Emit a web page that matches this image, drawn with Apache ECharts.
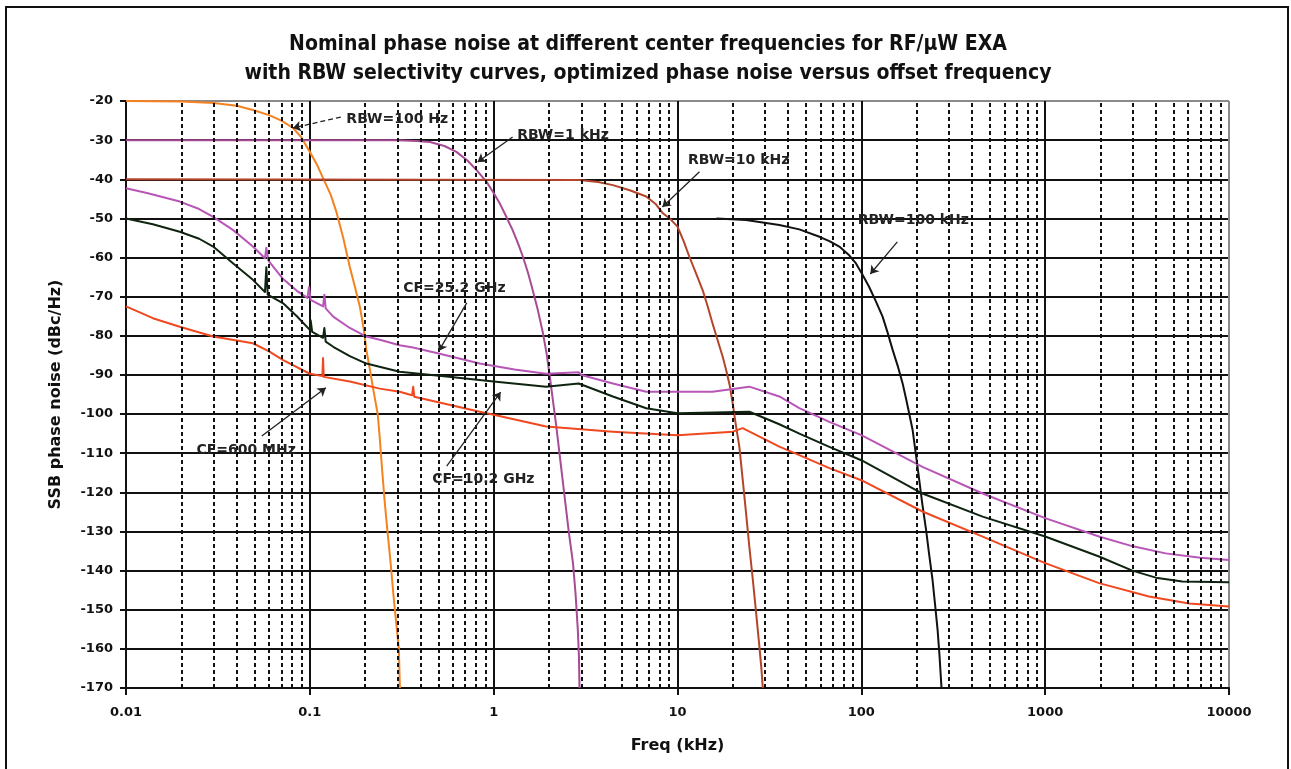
<!DOCTYPE html>
<html><head><meta charset="utf-8">
<script src="https://cdn.jsdelivr.net/npm/echarts@6/dist/echarts.min.js"></script>
<style>html,body{margin:0;padding:0;background:#fff}#c{width:1291px;height:769px}</style>
</head><body><div id="c"></div>
<script>
// ---------- text ----------
const titleLines = [
  'Nominal phase noise at different center frequencies for RF/\u00b5W EXA',
  'with RBW selectivity curves, optimized phase noise versus offset frequency'
];
const xAxisName = 'Freq (kHz)';
const yAxisName = 'SSB phase noise (dBc/Hz)';
const xTickLabels = ['0.01', '0.1', '1', '10', '100', '1000', '10000'];
const yTickValues = [-170, -160, -150, -140, -130, -120, -110, -100, -90, -80, -70, -60, -50, -40, -30, -20];
const minorFreqs = [
  0.02,0.03,0.04,0.05,0.06,0.07,0.08,0.09,
  0.2,0.3,0.4,0.5,0.6,0.7,0.8,0.9,
  2,3,4,5,6,7,8,9,
  20,30,40,50,60,70,80,90,
  200,300,400,500,600,700,800,900,
  2000,3000,4000,5000,6000,7000,8000,9000
];

// ---------- data: [freq kHz, dBc/Hz] ----------
const rbw100Hz = [[0.01,-20],[0.02,-20.1],[0.03,-20.5],[0.04,-21.2],[0.049,-22.3],[0.06,-23.6],[0.07,-25],[0.081,-26.9],[0.09,-29.3],[0.1,-33],[0.11,-36.5],[0.118,-39.7],[0.13,-44],[0.14,-48.6],[0.152,-55],[0.165,-62.4],[0.176,-67.5],[0.187,-72.5],[0.196,-78],[0.203,-83.6],[0.212,-88.5],[0.22,-93],[0.234,-100],[0.24,-106],[0.248,-115],[0.255,-122],[0.262,-128],[0.275,-138],[0.286,-147],[0.296,-154],[0.305,-160],[0.309,-170]];
const rbw1kHz = [[0.01,-30],[0.3,-30],[0.38,-30.2],[0.45,-30.5],[0.54,-31.5],[0.627,-33],[0.72,-35.2],[0.805,-37.6],[0.913,-40.6],[1.0,-43.5],[1.078,-46.1],[1.17,-49.5],[1.268,-53],[1.36,-56.5],[1.443,-59.8],[1.54,-64],[1.63,-68.3],[1.74,-73.5],[1.854,-79.3],[1.94,-84.5],[2.015,-90],[2.1,-96.5],[2.19,-103],[2.3,-111.5],[2.43,-121],[2.56,-130],[2.7,-138],[2.79,-146],[2.87,-155.2],[2.91,-162],[2.93,-170]];
const rbw10kHz = [[0.01,-40],[2.93,-40.2],[3.7,-40.7],[4.45,-41.5],[5.5,-42.8],[6.76,-44.4],[7.6,-46.3],[8.33,-48.7],[9.2,-50.3],[10,-52.1],[10.8,-55.8],[11.6,-59.8],[12.6,-64],[13.7,-68.3],[14.6,-72.5],[15.5,-76.8],[16.5,-81],[17.6,-85.3],[18.4,-88.8],[19.2,-92.5],[20,-97.5],[20.8,-103],[21.7,-108.3],[22.6,-116.5],[23.6,-125.3],[24.6,-134],[25.7,-142.4],[26.8,-151],[27.9,-159.5],[28.6,-165],[29.1,-170]];
const rbw100kHz = [[16.3,-50],[23.6,-50.4],[35.8,-51.7],[46,-52.8],[59.2,-54.7],[67,-55.8],[75.9,-57.2],[85,-59.2],[93.5,-61.5],[101,-64.2],[110,-67.4],[120,-71.2],[130.5,-75.1],[139,-79.2],[148,-83.6],[158,-87.8],[167.6,-92.1],[175,-96],[182,-99.8],[190,-104],[198,-110.3],[206.6,-116.9],[215,-123.2],[225,-129.6],[234,-136],[244,-142.4],[252,-148.8],[260,-155.2],[266,-161.5],[273,-170]];
const cf25GHz = [[0.01,-42.3],[0.013,-43.5],[0.0196,-45.7],[0.025,-47.6],[0.0298,-49.6],[0.0383,-53],[0.049,-57.2],[0.057,-60.2],[0.058,-57.5],[0.0595,-60.8],[0.0716,-65.5],[0.085,-68.5],[0.097,-70.3],[0.099,-67.5],[0.101,-70.8],[0.118,-72.5],[0.12,-69.5],[0.122,-73],[0.134,-75.1],[0.165,-78],[0.203,-80.2],[0.24,-81],[0.308,-82.4],[0.364,-83],[0.509,-84.6],[0.84,-87.1],[1.3,-88.6],[1.93,-89.7],[2.9,-89.3],[3.0,-90],[4.45,-92.2],[6.76,-94.3],[15.5,-94.3],[24.6,-93],[35.8,-95.5],[46,-98.5],[67,-102],[100,-105.4],[215,-113.5],[457,-120.3],[1000,-126.6],[1963,-131.3],[3000,-133.8],[4525,-135.6],[7000,-136.7],[10000,-137.3]];
const cf10GHz = [[0.01,-50],[0.014,-51.5],[0.0196,-53.4],[0.025,-55.2],[0.0298,-57.2],[0.0383,-61.5],[0.049,-65.7],[0.057,-68.8],[0.058,-62.5],[0.059,-69.5],[0.0716,-71.7],[0.085,-75],[0.1,-78.5],[0.101,-76],[0.103,-79],[0.118,-80.5],[0.12,-78],[0.122,-81.5],[0.134,-82.8],[0.165,-85.2],[0.203,-87.1],[0.308,-89.2],[0.553,-90.4],[1.0,-91.7],[1.93,-93],[2.9,-92.2],[4.45,-95.5],[6.76,-98.5],[10,-99.8],[24.6,-99.4],[35.8,-102.6],[46,-105],[67,-108.4],[100,-111.8],[215,-120.3],[457,-126.2],[1000,-131.3],[1963,-136.4],[2980,-140],[4000,-141.8],[5570,-142.8],[10000,-143]];
const cf600MHz = [[0.01,-72.5],[0.014,-75.5],[0.0196,-77.7],[0.0298,-80.2],[0.049,-81.9],[0.06,-84],[0.0716,-86.2],[0.1,-89.7],[0.117,-90.3],[0.118,-85.7],[0.119,-90.5],[0.165,-91.7],[0.24,-93.5],[0.308,-94.3],[0.36,-95.2],[0.365,-93],[0.37,-95.6],[0.84,-99.4],[1.0,-100.2],[1.93,-103.2],[4.45,-104.5],[10,-105.4],[20,-104.5],[22.6,-103.6],[35.8,-108.3],[46,-110.5],[67,-113.8],[100,-116.9],[215,-124.9],[457,-131.3],[1000,-138.1],[1963,-143.2],[3670,-146.6],[6070,-148.4],[10000,-149.2]];

// ---------- annotations (data coordinates) ----------
const notes = [
  {text:'RBW=100 Hz',  at:[0.157,-24.6],  from:[0.1474,-24.1], to:[0.0809,-26.9], dashed:true},
  {text:'RBW=1 kHz',   at:[1.334,-28.7],  from:[1.268,-29.2],  to:[0.818,-35.6]},
  {text:'RBW=10 kHz',  at:[11.33,-35.1],  from:[13.17,-38.1],  to:[8.28,-47.1]},
  {text:'RBW=100 kHz', at:[95.1,-50.4],   from:[156.9,-56.0],  to:[111.9,-64.2]},
  {text:'CF=25.2 GHz', at:[0.32,-67.8],   from:[0.7137,-71.6], to:[0.5025,-83.9]},
  {text:'CF=600 MHz',  at:[0.024,-109.2], from:[0.0548,-105.6],to:[0.1222,-93.3]},
  {text:'CF=10.2 GHz', at:[0.46,-116.6],  from:[0.5554,-113.3],to:[1.0915,-94.4]}
];

const FONT = 'DejaVu Sans, Liberation Sans, sans-serif';
const TITLE_FONT = 'bold 21px "Liberation Sans Narrow", "DejaVu Sans Condensed", sans-serif';
const chart = echarts.init(document.getElementById('c'), null, {renderer:'canvas'});

function curve(name, data, color) {
  return {name, type:'line', data, showSymbol:false, symbol:'none', z:3,
    lineStyle:{color, width:2, join:'round'}, itemStyle:{color}, silent:true, animation:false};
}

const ySplitColors = yTickValues.map((v, i) => i === yTickValues.length - 1 ? '#8a8a8a' : '#111');
const xSplitColors = xTickLabels.map((v, i) => i === xTickLabels.length - 1 ? '#8a8a8a' : '#111');

chart.setOption({
  animation:false,
  backgroundColor:'#fff',
  grid:{left:126, top:101, width:1103, height:587, containLabel:false},
  graphic:[
    {type:'rect', shape:{x:6, y:7, width:1282, height:800}, style:{fill:'none', stroke:'#111', lineWidth:2}, silent:true},
    {type:'text', style:{text:titleLines[0], x:648, y:45, align:'center', verticalAlign:'middle', font:TITLE_FONT, fill:'#111'}},
    {type:'text', style:{text:titleLines[1], x:648, y:74, align:'center', verticalAlign:'middle', font:TITLE_FONT, fill:'#111'}}
  ],
  xAxis:{
    type:'log', logBase:10, min:0.01, max:10000,
    name:xAxisName, nameLocation:'middle', nameGap:50,
    nameTextStyle:{fontFamily:FONT, fontWeight:'bold', fontSize:16, color:'#111'},
    axisLine:{show:true, lineStyle:{color:'#111', width:2}},
    axisTick:{show:true, length:7, lineStyle:{color:'#111', width:2}},
    axisLabel:{margin:18, fontFamily:FONT, fontWeight:'bold', fontSize:13, color:'#111',
      formatter:(v) => { const i = Math.round(Math.log10(v)) + 2; return xTickLabels[i] !== undefined ? xTickLabels[i] : ''; }},
    splitLine:{show:true, lineStyle:{color:xSplitColors, width:2}},
    minorTick:{show:false}, minorSplitLine:{show:false}
  },
  yAxis:{
    type:'value', min:-170, max:-20, interval:10,
    name:yAxisName, nameLocation:'middle', nameGap:62, nameRotate:90,
    nameTextStyle:{fontFamily:FONT, fontWeight:'bold', fontSize:16, color:'#111'},
    axisLine:{show:true, lineStyle:{color:'#111', width:2}},
    axisTick:{show:true, length:6, lineStyle:{color:'#111', width:2}},
    axisLabel:{margin:13, fontFamily:FONT, fontWeight:'bold', fontSize:13, color:'#111'},
    splitLine:{show:true, lineStyle:{color:ySplitColors, width:2}}
  },
  series:[
    {name:'minorGrid', type:'line', data:[[1,-170]], symbol:'none', showSymbol:false, z:1, silent:true,
      lineStyle:{opacity:0},
      markLine:{silent:true, symbol:'none', animation:false, label:{show:false},
        lineStyle:{color:'#111', width:2, type:[4,3]},
        data: minorFreqs.map(f => ({xAxis:f}))}},
    curve('RBW=100 Hz', rbw100Hz, '#f5821f'),
    curve('RBW=1 kHz', rbw1kHz, '#a64b95'),
    curve('RBW=10 kHz', rbw10kHz, '#b4452a'),
    curve('RBW=100 kHz', rbw100kHz, '#111111'),
    curve('CF=25.2 GHz', cf25GHz, '#b856b8'),
    curve('CF=10.2 GHz', cf10GHz, '#0e2410'),
    curve('CF=600 MHz', cf600MHz, '#f0481f'),
    {name:'notes', type:'line', data:[[1,-170]], symbol:'none', showSymbol:false, z:10, silent:true,
      lineStyle:{opacity:0},
      markLine:{silent:true, animation:false, symbol:['none','arrow'], symbolSize:8, label:{show:false},
        lineStyle:{color:'#222', width:1.3, type:'solid'},
        data: notes.map(n => [
          {coord:n.from, lineStyle:{type: n.dashed ? [5,3] : 'solid'}},
          {coord:n.to}
        ])},
      markPoint:{silent:true, animation:false, symbol:'rect', symbolSize:1,
        itemStyle:{color:'rgba(0,0,0,0)'},
        label:{show:true, position:'right', distance:0, formatter:'{b}',
          fontFamily:FONT, fontWeight:'bold', fontSize:14, color:'#222'},
        data: notes.map(n => ({name:n.text, coord:n.at}))}}
  ]
});
</script></body></html>
